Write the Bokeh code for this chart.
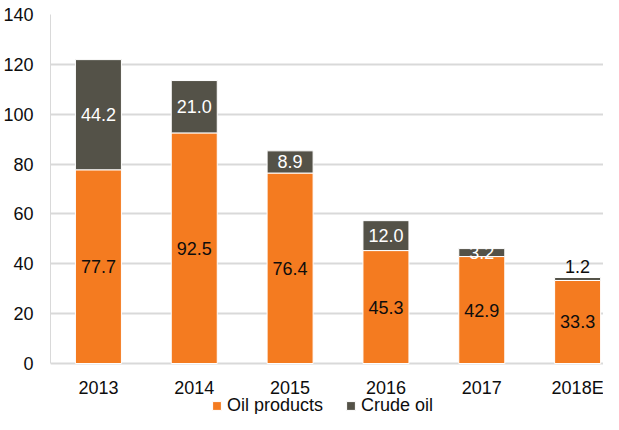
from bokeh.plotting import figure
from bokeh.models import ColumnDataSource, Legend, LegendItem, Range1d, FixedTicker
from bokeh.core.properties import value
from bokeh.embed import file_html
from bokeh.resources import INLINE

years = ["2013", "2014", "2015", "2016", "2017", "2018E"]
oil_products = [77.7, 92.5, 76.4, 45.3, 42.9, 33.3]
crude_oil = [44.2, 21.0, 8.9, 12.0, 3.2, 1.2]
series_names = ["Oil products", "Crude oil"]
y_ticks = [0, 20, 40, 60, 80, 100, 120, 140]

ORANGE = "#F47B20"
GREY = "#545248"
GRID = "#D9D9D9"
TXT = "#0D0D0D"
FONT = "Liberation Sans"
FS = "18px"

W, H = 603, 414
TOP, LEFT = 14, 50
PLOT_H = 349                      # pixel height of the 0..140 value band
y_max = y_ticks[-1]
frame_h = H - TOP
y_min = y_max - frame_h * y_max / PLOT_H   # extend frame below 0 for labels/legend

idx = list(range(len(years)))
tops = [a + b for a, b in zip(oil_products, crude_oil)]

src = ColumnDataSource(dict(
    x=idx,
    oil=oil_products,
    crude=crude_oil,
    top=tops,
    oil_mid=[v / 2 for v in oil_products],
    oil_lbl=[f"{v:.1f}" for v in oil_products],
    year=years,
    zero=[0] * len(years),
))

# crude labels: inside (white) unless segment too small -> above (black)
small = [c < 2 for c in crude_oil]
crude_src = ColumnDataSource(dict(
    x=idx,
    y=[t if s else o + c / 2 for o, c, t, s in zip(oil_products, crude_oil, tops, small)],
    yoff=[-11 if s else 0 for s in small],
    lbl=[f"{c:.1f}" for c in crude_oil],
    col=[TXT if s else "#FFFFFF" for s in small],
))

p = figure(
    output_backend="svg", toolbar_location=None,
    width=W, height=H, x_axis_location=None,
    x_range=Range1d(-0.5, 5.27), y_range=Range1d(y_min, y_max),
    min_border_left=LEFT, min_border_top=TOP, min_border_right=0, min_border_bottom=0,
)
p.outline_line_color = None
p.background_fill_color = "white"
p.border_fill_color = "white"

r1 = p.vbar(x="x", bottom=0, top="oil", width=0.48, source=src,
            fill_color=ORANGE, line_color="white", line_width=1)
r2 = p.vbar(x="x", bottom="oil", top="top", width=0.48, source=src,
            fill_color=GREY, line_color="white", line_width=1)

p.text(x="x", y="oil_mid", text="oil_lbl", source=src,
       text_font=value(FONT), text_font_size=FS, text_color=TXT,
       text_align="center", text_baseline="middle")
p.text(x="x", y="y", y_offset="yoff", text="lbl", source=crude_src,
       text_font=value(FONT), text_font_size=FS, text_color="col",
       text_align="center", text_baseline="middle")

# category labels under the baseline
p.text(x="x", y="zero", y_offset=24, text="year", source=src,
       text_font=value(FONT), text_font_size=FS, text_color=TXT,
       text_align="center", text_baseline="middle")

# y axis
yt = FixedTicker(ticks=y_ticks)
p.yaxis.ticker = yt
p.yaxis.bounds = (0, y_max)
p.yaxis.axis_line_color = GRID
p.yaxis.axis_line_width = 1
p.yaxis.major_tick_line_color = None
p.yaxis.minor_tick_line_color = None
p.yaxis.major_tick_out = 0
p.yaxis.minor_tick_out = 0
p.yaxis.major_label_standoff = 17
p.yaxis.major_label_text_font = FONT
p.yaxis.major_label_text_font_size = FS
p.yaxis.major_label_text_color = TXT

p.xgrid.grid_line_color = None
p.ygrid.ticker = yt
p.ygrid.grid_line_color = GRID
p.ygrid.grid_line_width = 2

legend = Legend(items=[LegendItem(label=series_names[0], renderers=[r1]),
                       LegendItem(label=series_names[1], renderers=[r2])],
                orientation="horizontal", location=(161, -2),
                label_text_font=FONT, label_text_font_size=FS,
                label_text_color=TXT,
                glyph_width=11, glyph_height=11, label_standoff=5,
                spacing=22, padding=0, margin=0, label_height=18,
                border_line_color=None, background_fill_alpha=0)
p.add_layout(legend, "center")

open("out.html", "w").write(file_html(p, INLINE))
